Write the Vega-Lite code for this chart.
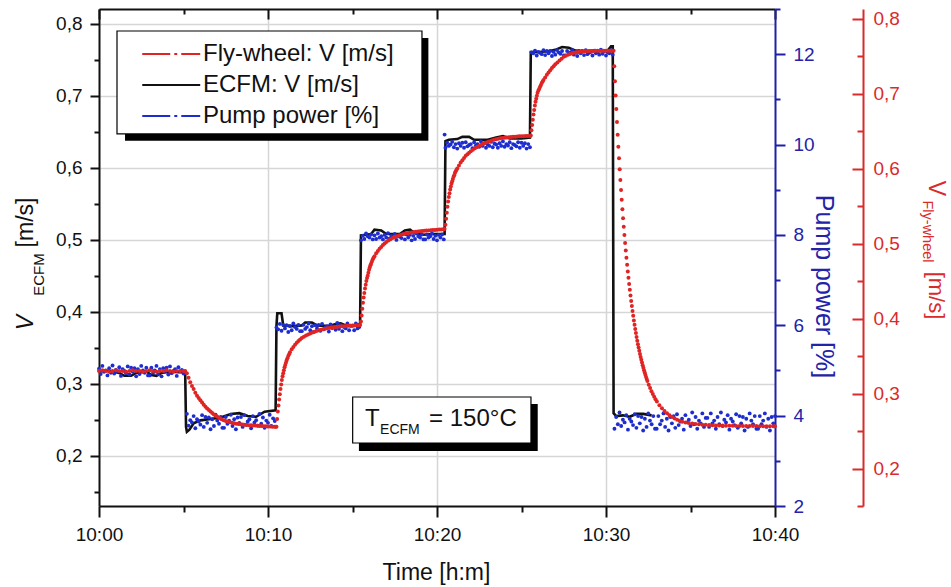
{
"$schema": "https://vega.github.io/schema/vega-lite/v6.json",
"width": 676, "height": 497,
"autosize": {"type": "none"},
"padding": {"left": 99, "top": 9, "right": 176, "bottom": 81},
"background": "white",
"config": {"font": "Liberation Sans", "view": {"stroke": null}, "axis": {"labelFont": "Liberation Sans", "titleFont": "Liberation Sans", "titleFontWeight": "normal"}},
"datasets": {
"ecfm": [{"t":0,"v":0.317},{"t":0.6,"v":0.318},{"t":1.2,"v":0.315},{"t":1.5,"v":0.311},{"t":1.9,"v":0.311},{"t":2.2,"v":0.315},{"t":2.8,"v":0.317},{"t":3.1,"v":0.312},{"t":3.4,"v":0.311},{"t":3.7,"v":0.315},{"t":4.2,"v":0.317},{"t":4.7,"v":0.316},{"t":5.1,"v":0.316},{"t":5.15,"v":0.24},{"t":5.2,"v":0.233},{"t":5.35,"v":0.236},{"t":5.6,"v":0.245},{"t":6.0,"v":0.249},{"t":6.6,"v":0.251},{"t":7.2,"v":0.253},{"t":7.8,"v":0.258},{"t":8.3,"v":0.259},{"t":8.8,"v":0.255},{"t":9.3,"v":0.254},{"t":9.8,"v":0.261},{"t":10.45,"v":0.263},{"t":10.5,"v":0.38},{"t":10.55,"v":0.398},{"t":10.8,"v":0.398},{"t":10.9,"v":0.381},{"t":11.5,"v":0.380},{"t":12.0,"v":0.381},{"t":12.2,"v":0.385},{"t":12.6,"v":0.385},{"t":12.9,"v":0.381},{"t":13.6,"v":0.380},{"t":14.0,"v":0.383},{"t":14.3,"v":0.384},{"t":14.6,"v":0.381},{"t":15.0,"v":0.381},{"t":15.45,"v":0.383},{"t":15.5,"v":0.506},{"t":15.8,"v":0.507},{"t":16.1,"v":0.508},{"t":16.3,"v":0.514},{"t":16.7,"v":0.513},{"t":17.0,"v":0.508},{"t":17.8,"v":0.508},{"t":18.1,"v":0.513},{"t":18.4,"v":0.514},{"t":18.7,"v":0.509},{"t":19.2,"v":0.507},{"t":19.8,"v":0.508},{"t":20.45,"v":0.508},{"t":20.5,"v":0.637},{"t":20.7,"v":0.639},{"t":21.2,"v":0.640},{"t":21.5,"v":0.643},{"t":21.9,"v":0.643},{"t":22.2,"v":0.639},{"t":23.0,"v":0.639},{"t":23.5,"v":0.642},{"t":23.9,"v":0.644},{"t":24.3,"v":0.641},{"t":25.0,"v":0.641},{"t":25.5,"v":0.642},{"t":25.55,"v":0.761},{"t":26.0,"v":0.761},{"t":26.6,"v":0.762},{"t":27.0,"v":0.764},{"t":27.4,"v":0.768},{"t":27.8,"v":0.767},{"t":28.2,"v":0.763},{"t":28.8,"v":0.762},{"t":29.3,"v":0.763},{"t":29.8,"v":0.762},{"t":30.1,"v":0.763},{"t":30.3,"v":0.769},{"t":30.4,"v":0.769},{"t":30.45,"v":0.259},{"t":30.6,"v":0.255},{"t":31.0,"v":0.256},{"t":31.4,"v":0.254},{"t":31.8,"v":0.258},{"t":32.2,"v":0.258},{"t":32.7,"v":0.256}],
"pump": [{"t":0,"p":5.04},{"t":0.1,"p":4.92},{"t":0.2,"p":5.10},{"t":0.3,"p":4.97},{"t":0.4,"p":5.00},{"t":0.5,"p":4.89},{"t":0.6,"p":5.05},{"t":0.7,"p":4.95},{"t":0.8,"p":5.11},{"t":0.9,"p":4.93},{"t":1.0,"p":5.01},{"t":1.1,"p":4.98},{"t":1.2,"p":5.07},{"t":1.3,"p":4.88},{"t":1.4,"p":5.03},{"t":1.5,"p":4.99},{"t":1.6,"p":4.94},{"t":1.7,"p":5.09},{"t":1.8,"p":4.91},{"t":1.9,"p":5.06},{"t":2.0,"p":4.97},{"t":2.1,"p":5.05},{"t":2.2,"p":4.87},{"t":2.3,"p":5.03},{"t":2.4,"p":4.92},{"t":2.5,"p":5.10},{"t":2.6,"p":5.00},{"t":2.7,"p":4.95},{"t":2.8,"p":5.06},{"t":2.9,"p":4.89},{"t":3.0,"p":4.89},{"t":3.1,"p":5.06},{"t":3.2,"p":4.95},{"t":3.3,"p":5.00},{"t":3.4,"p":5.10},{"t":3.5,"p":4.92},{"t":3.6,"p":5.03},{"t":3.7,"p":4.87},{"t":3.8,"p":5.05},{"t":3.9,"p":4.97},{"t":4.0,"p":5.06},{"t":4.1,"p":4.91},{"t":4.2,"p":5.09},{"t":4.3,"p":4.94},{"t":4.4,"p":4.99},{"t":4.5,"p":5.03},{"t":4.6,"p":4.88},{"t":4.7,"p":5.07},{"t":4.8,"p":4.98},{"t":4.9,"p":5.01},{"t":5.0,"p":4.93},
{"t":5.2,"p":4.04},{"t":5.3,"p":3.78},{"t":5.4,"p":3.90},{"t":5.5,"p":3.85},{"t":5.6,"p":3.99},{"t":5.7,"p":3.72},{"t":5.8,"p":3.92},{"t":5.9,"p":3.87},{"t":6.0,"p":3.80},{"t":6.1,"p":4.01},{"t":6.2,"p":3.75},{"t":6.3,"p":3.97},{"t":6.4,"p":3.84},{"t":6.5,"p":3.96},{"t":6.6,"p":3.70},{"t":6.7,"p":3.92},{"t":6.8,"p":3.77},{"t":6.9,"p":4.02},{"t":7.0,"p":3.89},{"t":7.1,"p":3.82},{"t":7.2,"p":3.97},{"t":7.3,"p":3.73},{"t":7.4,"p":3.73},{"t":7.5,"p":3.97},{"t":7.6,"p":3.82},{"t":7.7,"p":3.89},{"t":7.8,"p":4.02},{"t":7.9,"p":3.77},{"t":8.0,"p":3.92},{"t":8.1,"p":3.70},{"t":8.2,"p":3.96},{"t":8.3,"p":3.84},{"t":8.4,"p":3.97},{"t":8.5,"p":3.75},{"t":8.6,"p":4.01},{"t":8.7,"p":3.80},{"t":8.8,"p":3.87},{"t":8.9,"p":3.92},{"t":9.0,"p":3.72},{"t":9.1,"p":3.99},{"t":9.2,"p":3.85},{"t":9.3,"p":3.90},{"t":9.4,"p":3.78},{"t":9.5,"p":4.04},{"t":9.6,"p":3.82},{"t":9.7,"p":3.96},{"t":9.8,"p":3.73},{"t":9.9,"p":3.89},{"t":10.0,"p":3.84},{"t":10.1,"p":4.02},{"t":10.2,"p":3.77},{"t":10.3,"p":3.94},{"t":10.4,"p":3.88},
{"t":10.5,"p":5.95},{"t":10.6,"p":5.91},{"t":10.7,"p":6.03},{"t":10.8,"p":5.88},{"t":10.9,"p":6.01},{"t":11.0,"p":5.93},{"t":11.1,"p":6.00},{"t":11.2,"p":5.85},{"t":11.3,"p":5.98},{"t":11.4,"p":5.89},{"t":11.5,"p":6.04},{"t":11.6,"p":5.96},{"t":11.7,"p":5.92},{"t":11.8,"p":6.01},{"t":11.9,"p":5.87},{"t":12.0,"p":5.87},{"t":12.1,"p":6.01},{"t":12.2,"p":5.92},{"t":12.3,"p":5.96},{"t":12.4,"p":6.04},{"t":12.5,"p":5.89},{"t":12.6,"p":5.98},{"t":12.7,"p":5.85},{"t":12.8,"p":6.00},{"t":12.9,"p":5.93},{"t":13.0,"p":6.01},{"t":13.1,"p":5.88},{"t":13.2,"p":6.03},{"t":13.3,"p":5.91},{"t":13.4,"p":5.95},{"t":13.5,"p":5.98},{"t":13.6,"p":5.86},{"t":13.7,"p":6.02},{"t":13.8,"p":5.94},{"t":13.9,"p":5.97},{"t":14.0,"p":5.90},{"t":14.1,"p":6.05},{"t":14.2,"p":5.92},{"t":14.3,"p":6.00},{"t":14.4,"p":5.87},{"t":14.5,"p":5.96},{"t":14.6,"p":5.93},{"t":14.7,"p":6.04},{"t":14.8,"p":5.89},{"t":14.9,"p":5.99},{"t":15.0,"p":5.99},{"t":15.1,"p":5.89},{"t":15.2,"p":6.04},{"t":15.3,"p":5.93},{"t":15.4,"p":5.96},
{"t":15.5,"p":7.88},{"t":15.6,"p":7.98},{"t":15.7,"p":7.91},{"t":15.8,"p":8.03},{"t":15.9,"p":7.97},{"t":16.0,"p":7.94},{"t":16.1,"p":8.01},{"t":16.2,"p":7.90},{"t":16.3,"p":7.99},{"t":16.4,"p":7.91},{"t":16.5,"p":8.03},{"t":16.6,"p":7.94},{"t":16.7,"p":7.97},{"t":16.8,"p":7.90},{"t":16.9,"p":8.00},{"t":17.0,"p":7.94},{"t":17.1,"p":8.04},{"t":17.2,"p":7.92},{"t":17.3,"p":7.98},{"t":17.4,"p":7.95},{"t":17.5,"p":8.02},{"t":17.6,"p":7.89},{"t":17.7,"p":7.98},{"t":17.8,"p":7.96},{"t":17.9,"p":7.93},{"t":18.0,"p":8.02},{"t":18.1,"p":7.90},{"t":18.2,"p":8.01},{"t":18.3,"p":7.94},{"t":18.4,"p":8.00},{"t":18.5,"p":7.88},{"t":18.6,"p":7.98},{"t":18.7,"p":7.91},{"t":18.8,"p":8.03},{"t":18.9,"p":7.97},{"t":19.0,"p":7.94},{"t":19.1,"p":8.01},{"t":19.2,"p":7.90},{"t":19.3,"p":7.90},{"t":19.4,"p":8.01},{"t":19.5,"p":7.94},{"t":19.6,"p":7.97},{"t":19.7,"p":8.03},{"t":19.8,"p":7.91},{"t":19.9,"p":7.98},{"t":20.0,"p":7.88},{"t":20.1,"p":8.00},{"t":20.2,"p":7.94},{"t":20.3,"p":8.01},{"t":20.4,"p":7.90},
{"t":20.45,"p":10.22},{"t":20.5,"p":9.93},{"t":20.6,"p":10.04},{"t":20.7,"p":9.97},{"t":20.8,"p":10.00},{"t":20.9,"p":10.06},{"t":21.0,"p":9.94},{"t":21.1,"p":10.01},{"t":21.2,"p":9.91},{"t":21.3,"p":10.03},{"t":21.4,"p":9.97},{"t":21.5,"p":10.04},{"t":21.6,"p":9.93},{"t":21.7,"p":10.05},{"t":21.8,"p":9.96},{"t":21.9,"p":9.99},{"t":22.0,"p":10.01},{"t":22.1,"p":9.92},{"t":22.2,"p":10.05},{"t":22.3,"p":9.98},{"t":22.4,"p":10.01},{"t":22.5,"p":9.95},{"t":22.6,"p":10.07},{"t":22.7,"p":9.97},{"t":22.8,"p":10.03},{"t":22.9,"p":9.93},{"t":23.0,"p":10.00},{"t":23.1,"p":9.97},{"t":23.2,"p":10.06},{"t":23.3,"p":9.94},{"t":23.4,"p":10.02},{"t":23.5,"p":10.00},{"t":23.6,"p":9.93},{"t":23.7,"p":10.03},{"t":23.8,"p":9.97},{"t":23.9,"p":10.07},{"t":24.0,"p":9.95},{"t":24.1,"p":10.01},{"t":24.2,"p":9.98},{"t":24.3,"p":10.05},{"t":24.4,"p":9.92},{"t":24.5,"p":10.01},{"t":24.6,"p":9.99},{"t":24.7,"p":9.96},{"t":24.8,"p":10.05},{"t":24.9,"p":9.93},{"t":25.0,"p":10.04},{"t":25.1,"p":9.97},{"t":25.2,"p":10.03},{"t":25.3,"p":9.91},{"t":25.4,"p":10.01},{"t":25.5,"p":9.94},
{"t":25.6,"p":12.04},{"t":25.7,"p":12.02},{"t":25.8,"p":12.08},{"t":25.9,"p":11.97},{"t":26.0,"p":12.05},{"t":26.1,"p":12.03},{"t":26.2,"p":12.00},{"t":26.3,"p":12.09},{"t":26.4,"p":11.98},{"t":26.5,"p":12.07},{"t":26.6,"p":12.02},{"t":26.7,"p":12.07},{"t":26.8,"p":11.96},{"t":26.9,"p":12.05},{"t":27.0,"p":11.99},{"t":27.1,"p":12.09},{"t":27.2,"p":12.04},{"t":27.3,"p":12.01},{"t":27.4,"p":12.07},{"t":27.5,"p":11.97},{"t":27.6,"p":11.97},{"t":27.7,"p":12.07},{"t":27.8,"p":12.01},{"t":27.9,"p":12.04},{"t":28.0,"p":12.09},{"t":28.1,"p":11.99},{"t":28.2,"p":12.05},{"t":28.3,"p":11.96},{"t":28.4,"p":12.07},{"t":28.5,"p":12.02},{"t":28.6,"p":12.07},{"t":28.7,"p":11.98},{"t":28.8,"p":12.09},{"t":28.9,"p":12.00},{"t":29.0,"p":12.03},{"t":29.1,"p":12.05},{"t":29.2,"p":11.97},{"t":29.3,"p":12.08},{"t":29.4,"p":12.02},{"t":29.5,"p":12.04},{"t":29.6,"p":11.99},{"t":29.7,"p":12.10},{"t":29.8,"p":12.01},{"t":29.9,"p":12.07},{"t":30.0,"p":11.97},{"t":30.1,"p":12.04},{"t":30.2,"p":12.02},{"t":30.3,"p":12.09},{"t":30.4,"p":11.99},
{"t":30.5,"p":3.71},{"t":30.6,"p":3.97},{"t":30.7,"p":3.81},{"t":30.8,"p":4.07},{"t":30.9,"p":3.77},{"t":31.0,"p":3.91},{"t":31.1,"p":3.85},{"t":31.2,"p":4.01},{"t":31.3,"p":3.69},{"t":31.4,"p":3.93},{"t":31.5,"p":3.87},{"t":31.6,"p":3.79},{"t":31.7,"p":4.03},{"t":31.8,"p":3.73},{"t":31.9,"p":3.99},{"t":32.0,"p":3.83},{"t":32.1,"p":3.97},{"t":32.2,"p":3.67},{"t":32.3,"p":3.93},{"t":32.4,"p":3.75},{"t":32.5,"p":4.05},{"t":32.6,"p":3.89},{"t":32.7,"p":3.81},{"t":32.8,"p":3.99},{"t":32.9,"p":3.71},{"t":33.0,"p":3.71},{"t":33.1,"p":3.99},{"t":33.2,"p":3.81},{"t":33.3,"p":3.89},{"t":33.4,"p":4.05},{"t":33.5,"p":3.75},{"t":33.6,"p":3.93},{"t":33.7,"p":3.67},{"t":33.8,"p":3.97},{"t":33.9,"p":3.83},{"t":34.0,"p":3.99},{"t":34.1,"p":3.73},{"t":34.2,"p":4.03},{"t":34.3,"p":3.79},{"t":34.4,"p":3.87},{"t":34.5,"p":3.93},{"t":34.6,"p":3.69},{"t":34.7,"p":4.01},{"t":34.8,"p":3.85},{"t":34.9,"p":3.91},{"t":35.0,"p":3.77},{"t":35.1,"p":4.07},{"t":35.2,"p":3.81},{"t":35.3,"p":3.97},{"t":35.4,"p":3.71},{"t":35.5,"p":3.89},{"t":35.6,"p":3.83},{"t":35.7,"p":4.05},{"t":35.8,"p":3.75},{"t":35.9,"p":3.95},{"t":36.0,"p":3.95},{"t":36.1,"p":3.75},{"t":36.2,"p":4.05},{"t":36.3,"p":3.83},{"t":36.4,"p":3.89},{"t":36.5,"p":3.71},{"t":36.6,"p":3.97},{"t":36.7,"p":3.81},{"t":36.8,"p":4.07},{"t":36.9,"p":3.77},{"t":37.0,"p":3.91},{"t":37.1,"p":3.85},{"t":37.2,"p":4.01},{"t":37.3,"p":3.69},{"t":37.4,"p":3.93},{"t":37.5,"p":3.87},{"t":37.6,"p":3.79},{"t":37.7,"p":4.03},{"t":37.8,"p":3.73},{"t":37.9,"p":3.99},{"t":38.0,"p":3.83},{"t":38.1,"p":3.97},{"t":38.2,"p":3.67},{"t":38.3,"p":3.93},{"t":38.4,"p":3.75},{"t":38.5,"p":4.05},{"t":38.6,"p":3.89},{"t":38.7,"p":3.81},{"t":38.8,"p":3.99},{"t":38.9,"p":3.71},{"t":39.0,"p":3.71},{"t":39.1,"p":3.99},{"t":39.2,"p":3.81},{"t":39.3,"p":3.89},{"t":39.4,"p":4.05},{"t":39.5,"p":3.75},{"t":39.6,"p":3.93},{"t":39.7,"p":3.67},{"t":39.8,"p":3.97},{"t":39.9,"p":3.83},{"t":40.0,"p":3.99}],
"fly": [{"t":0,"r":0.330},{"t":0.2,"r":0.331},{"t":0.4,"r":0.330},{"t":0.6,"r":0.329},{"t":0.8,"r":0.330},{"t":1.0,"r":0.331},{"t":1.2,"r":0.330},{"t":1.4,"r":0.330},{"t":1.6,"r":0.329},{"t":1.8,"r":0.330},{"t":2.0,"r":0.331},{"t":2.2,"r":0.330},{"t":2.4,"r":0.330},{"t":2.6,"r":0.329},{"t":2.8,"r":0.330},{"t":3.0,"r":0.331},{"t":3.2,"r":0.330},{"t":3.4,"r":0.329},{"t":3.6,"r":0.330},{"t":3.8,"r":0.330},{"t":4.0,"r":0.331},{"t":4.2,"r":0.330},{"t":4.4,"r":0.329},{"t":4.6,"r":0.330},{"t":4.8,"r":0.330},{"t":5.0,"r":0.330},
{"t":5.1,"r":0.330},{"t":5.2,"r":0.327},{"t":5.3,"r":0.321},{"t":5.4,"r":0.315},{"t":5.5,"r":0.310},{"t":5.6,"r":0.306},{"t":5.7,"r":0.301},{"t":5.8,"r":0.297},{"t":5.9,"r":0.294},{"t":6.0,"r":0.291},{"t":6.1,"r":0.288},{"t":6.2,"r":0.285},{"t":6.3,"r":0.2825},{"t":6.4,"r":0.280},{"t":6.5,"r":0.278},{"t":6.6,"r":0.276},{"t":6.7,"r":0.274},{"t":6.8,"r":0.272},{"t":6.9,"r":0.2705},{"t":7.0,"r":0.269},{"t":7.125,"r":0.2672},{"t":7.25,"r":0.2658},{"t":7.375,"r":0.2645},{"t":7.5,"r":0.2634},{"t":7.625,"r":0.2625},{"t":7.75,"r":0.2617},{"t":7.875,"r":0.261},{"t":8.0,"r":0.2603},{"t":8.125,"r":0.2598},{"t":8.25,"r":0.2594},{"t":8.375,"r":0.259},{"t":8.5,"r":0.2587},{"t":8.625,"r":0.2584},{"t":8.75,"r":0.2581},{"t":8.875,"r":0.2578},{"t":9.0,"r":0.2576},{"t":9.125,"r":0.2574},{"t":9.25,"r":0.2572},{"t":9.375,"r":0.257},{"t":9.5,"r":0.2568},{"t":9.625,"r":0.2566},{"t":9.75,"r":0.2564},{"t":9.875,"r":0.2562},{"t":10.0,"r":0.256},{"t":10.125,"r":0.2559},{"t":10.25,"r":0.2558},{"t":10.375,"r":0.2557},{"t":10.45,"r":0.2556},
{"t":10.5,"r":0.2558},{"t":10.54,"r":0.266},{"t":10.58,"r":0.276},{"t":10.62,"r":0.284},{"t":10.66,"r":0.292},{"t":10.7,"r":0.299},{"t":10.74,"r":0.306},{"t":10.78,"r":0.312},{"t":10.82,"r":0.318},{"t":10.86,"r":0.323},{"t":10.9,"r":0.327},{"t":10.94,"r":0.331},{"t":10.98,"r":0.335},{"t":11.02,"r":0.338},{"t":11.06,"r":0.341},{"t":11.1,"r":0.344},{"t":11.15,"r":0.347},{"t":11.2,"r":0.350},{"t":11.25,"r":0.3525},{"t":11.3,"r":0.355},{"t":11.4,"r":0.359},{"t":11.5,"r":0.362},{"t":11.6,"r":0.365},{"t":11.7,"r":0.3677},{"t":11.8,"r":0.370},{"t":11.9,"r":0.372},{"t":12.0,"r":0.374},{"t":12.125,"r":0.3758},{"t":12.25,"r":0.3774},{"t":12.375,"r":0.3788},{"t":12.5,"r":0.380},{"t":12.625,"r":0.3812},{"t":12.75,"r":0.3823},{"t":12.875,"r":0.3833},{"t":13.0,"r":0.3842},{"t":13.125,"r":0.385},{"t":13.25,"r":0.3857},{"t":13.375,"r":0.3863},{"t":13.5,"r":0.3869},{"t":13.625,"r":0.3874},{"t":13.75,"r":0.3879},{"t":13.875,"r":0.3883},{"t":14.0,"r":0.3887},{"t":14.125,"r":0.389},{"t":14.25,"r":0.3893},{"t":14.375,"r":0.3896},{"t":14.5,"r":0.3898},{"t":14.625,"r":0.39},{"t":14.75,"r":0.3902},{"t":14.875,"r":0.3904},{"t":15.0,"r":0.3906},{"t":15.125,"r":0.3908},{"t":15.25,"r":0.391},{"t":15.375,"r":0.3911},{"t":15.45,"r":0.3912},
{"t":15.5,"r":0.396},{"t":15.54,"r":0.404},{"t":15.58,"r":0.413},{"t":15.62,"r":0.421},{"t":15.66,"r":0.428},{"t":15.7,"r":0.434},{"t":15.74,"r":0.440},{"t":15.78,"r":0.445},{"t":15.82,"r":0.450},{"t":15.86,"r":0.454},{"t":15.9,"r":0.457},{"t":15.94,"r":0.461},{"t":15.98,"r":0.465},{"t":16.02,"r":0.468},{"t":16.06,"r":0.471},{"t":16.1,"r":0.473},{"t":16.15,"r":0.476},{"t":16.2,"r":0.479},{"t":16.25,"r":0.481},{"t":16.3,"r":0.483},{"t":16.4,"r":0.487},{"t":16.5,"r":0.490},{"t":16.6,"r":0.493},{"t":16.7,"r":0.4955},{"t":16.8,"r":0.498},{"t":16.9,"r":0.500},{"t":17.0,"r":0.502},{"t":17.125,"r":0.504},{"t":17.25,"r":0.5057},{"t":17.375,"r":0.5072},{"t":17.5,"r":0.5085},{"t":17.625,"r":0.5097},{"t":17.75,"r":0.5108},{"t":17.875,"r":0.5117},{"t":18.0,"r":0.5125},{"t":18.125,"r":0.5132},{"t":18.25,"r":0.5138},{"t":18.375,"r":0.5143},{"t":18.5,"r":0.5148},{"t":18.625,"r":0.5152},{"t":18.75,"r":0.5156},{"t":18.875,"r":0.516},{"t":19.0,"r":0.5163},{"t":19.125,"r":0.5166},{"t":19.25,"r":0.5169},{"t":19.375,"r":0.5172},{"t":19.5,"r":0.5174},{"t":19.625,"r":0.5177},{"t":19.75,"r":0.5179},{"t":19.875,"r":0.5181},{"t":20.0,"r":0.5183},{"t":20.125,"r":0.5186},{"t":20.25,"r":0.5188},{"t":20.375,"r":0.519},{"t":20.45,"r":0.5195},
{"t":20.5,"r":0.525},{"t":20.54,"r":0.533},{"t":20.58,"r":0.541},{"t":20.62,"r":0.549},{"t":20.66,"r":0.556},{"t":20.7,"r":0.562},{"t":20.74,"r":0.567},{"t":20.78,"r":0.572},{"t":20.82,"r":0.576},{"t":20.86,"r":0.580},{"t":20.9,"r":0.583},{"t":20.94,"r":0.586},{"t":20.98,"r":0.589},{"t":21.02,"r":0.591},{"t":21.06,"r":0.594},{"t":21.1,"r":0.596},{"t":21.15,"r":0.598},{"t":21.2,"r":0.600},{"t":21.3,"r":0.604},{"t":21.4,"r":0.608},{"t":21.5,"r":0.611},{"t":21.6,"r":0.614},{"t":21.7,"r":0.617},{"t":21.8,"r":0.619},{"t":21.9,"r":0.621},{"t":22.0,"r":0.623},{"t":22.125,"r":0.625},{"t":22.25,"r":0.627},{"t":22.375,"r":0.6287},{"t":22.5,"r":0.6303},{"t":22.625,"r":0.6318},{"t":22.75,"r":0.6332},{"t":22.875,"r":0.6344},{"t":23.0,"r":0.6355},{"t":23.125,"r":0.6365},{"t":23.25,"r":0.6374},{"t":23.375,"r":0.6382},{"t":23.5,"r":0.639},{"t":23.625,"r":0.6396},{"t":23.75,"r":0.6402},{"t":23.875,"r":0.6407},{"t":24.0,"r":0.6411},{"t":24.125,"r":0.6415},{"t":24.25,"r":0.6418},{"t":24.375,"r":0.6421},{"t":24.5,"r":0.6423},{"t":24.625,"r":0.6425},{"t":24.75,"r":0.6427},{"t":24.875,"r":0.6429},{"t":25.0,"r":0.643},{"t":25.125,"r":0.6431},{"t":25.25,"r":0.6432},{"t":25.375,"r":0.6433},{"t":25.5,"r":0.6434},
{"t":25.55,"r":0.644},{"t":25.59,"r":0.651},{"t":25.63,"r":0.658},{"t":25.67,"r":0.665},{"t":25.71,"r":0.672},{"t":25.75,"r":0.678},{"t":25.79,"r":0.684},{"t":25.83,"r":0.689},{"t":25.87,"r":0.693},{"t":25.91,"r":0.697},{"t":25.95,"r":0.701},{"t":26.0,"r":0.704},{"t":26.05,"r":0.7065},{"t":26.1,"r":0.709},{"t":26.15,"r":0.7115},{"t":26.2,"r":0.714},{"t":26.25,"r":0.716},{"t":26.3,"r":0.718},{"t":26.4,"r":0.7215},{"t":26.5,"r":0.725},{"t":26.6,"r":0.728},{"t":26.7,"r":0.731},{"t":26.8,"r":0.734},{"t":26.9,"r":0.7365},{"t":27.0,"r":0.739},{"t":27.125,"r":0.7415},{"t":27.25,"r":0.744},{"t":27.375,"r":0.7465},{"t":27.5,"r":0.749},{"t":27.625,"r":0.7505},{"t":27.75,"r":0.7518},{"t":27.875,"r":0.7528},{"t":28.0,"r":0.7536},{"t":28.125,"r":0.7543},{"t":28.25,"r":0.7549},{"t":28.375,"r":0.7554},{"t":28.5,"r":0.7558},{"t":28.625,"r":0.7561},{"t":28.75,"r":0.7563},{"t":28.875,"r":0.7565},{"t":29.0,"r":0.7566},{"t":29.125,"r":0.7567},{"t":29.25,"r":0.7568},{"t":29.375,"r":0.7569},{"t":29.5,"r":0.757},{"t":29.625,"r":0.757},{"t":29.75,"r":0.757},{"t":29.875,"r":0.757},{"t":30.0,"r":0.757},{"t":30.125,"r":0.757},{"t":30.25,"r":0.757},{"t":30.375,"r":0.757},{"t":30.45,"r":0.757},
{"t":30.49,"r":0.7363},{"t":30.53,"r":0.7165},{"t":30.57,"r":0.6975},{"t":30.61,"r":0.6793},{"t":30.65,"r":0.6619},{"t":30.69,"r":0.6451},{"t":30.73,"r":0.6291},{"t":30.77,"r":0.6137},{"t":30.81,"r":0.5989},{"t":30.85,"r":0.5848},{"t":30.89,"r":0.5712},{"t":30.93,"r":0.5582},{"t":30.97,"r":0.5457},{"t":31.01,"r":0.5338},{"t":31.05,"r":0.5223},{"t":31.09,"r":0.5113},{"t":31.13,"r":0.5008},{"t":31.17,"r":0.4907},{"t":31.21,"r":0.4810},{"t":31.25,"r":0.4717},{"t":31.29,"r":0.4628},{"t":31.33,"r":0.4542},{"t":31.37,"r":0.4461},{"t":31.41,"r":0.4382},{"t":31.45,"r":0.4307},{"t":31.49,"r":0.4235},{"t":31.53,"r":0.4166},{"t":31.57,"r":0.4100},{"t":31.61,"r":0.4036},{"t":31.65,"r":0.3975},{"t":31.69,"r":0.3917},{"t":31.73,"r":0.3860},{"t":31.77,"r":0.3807},{"t":31.81,"r":0.3755},{"t":31.85,"r":0.3705},{"t":31.89,"r":0.3658},{"t":31.93,"r":0.3613},{"t":31.97,"r":0.3569},{"t":32.01,"r":0.3527},{"t":32.05,"r":0.3487},{"t":32.09,"r":0.3449},{"t":32.13,"r":0.3412},{"t":32.17,"r":0.3377},{"t":32.21,"r":0.3343},{"t":32.25,"r":0.3311},{"t":32.29,"r":0.3280},{"t":32.33,"r":0.3250},{"t":32.37,"r":0.3221},{"t":32.41,"r":0.3193},{"t":32.45,"r":0.3167},{"t":32.53,"r":0.3118},{"t":32.61,"r":0.3073},{"t":32.69,"r":0.3031},{"t":32.77,"r":0.2992},{"t":32.85,"r":0.2957},{"t":32.93,"r":0.2925},{"t":33.01,"r":0.2895},{"t":33.16,"r":0.2845},{"t":33.31,"r":0.2803},{"t":33.46,"r":0.2767},{"t":33.61,"r":0.2736},{"t":33.76,"r":0.2709},{"t":33.91,"r":0.2687},{"t":34.06,"r":0.2668},{"t":34.21,"r":0.2651},{"t":34.36,"r":0.2637},{"t":34.51,"r":0.2625},{"t":34.7,"r":0.2615},{"t":34.9,"r":0.2607},{"t":35.1,"r":0.26},{"t":35.3,"r":0.2594},{"t":35.5,"r":0.2589},{"t":35.7,"r":0.2585},{"t":35.9,"r":0.2582},{"t":36.1,"r":0.2579},{"t":36.3,"r":0.2577},{"t":36.5,"r":0.2575},{"t":36.7,"r":0.2573},{"t":36.9,"r":0.2572},{"t":37.1,"r":0.2571},{"t":37.3,"r":0.257},{"t":37.5,"r":0.2569},{"t":37.7,"r":0.2568},{"t":37.9,"r":0.2568},{"t":38.1,"r":0.2567},{"t":38.3,"r":0.2567},{"t":38.5,"r":0.2566},{"t":38.7,"r":0.2566},{"t":38.9,"r":0.2566},{"t":39.1,"r":0.2565},{"t":39.3,"r":0.2565},{"t":39.5,"r":0.2565},{"t":39.7,"r":0.2565},{"t":39.9,"r":0.2565},{"t":40.0,"r":0.2565}]
},
"resolve": {"scale": {"y": "independent"}, "axis": {"x": "independent", "y": "independent"}},
"layer": [
{
"resolve": {"axis": {"x": "independent", "y": "independent"}},
"layer": [
{"data": {"values": [{}]}, "mark": {"type": "rect", "color": "#000000"},
 "encoding": {
  "x": {"datum": 1.54, "type": "quantitative", "scale": {"domain": [0, 40], "nice": false, "zero": false},
        "axis": {"orient": "top", "values": [0,5,10,15,20,25,30,35,40], "labels": false, "tickSize": {"condition": {"test": "datum.value % 10 === 0", "value": -10}, "value": -5}, "tickWidth": 2, "tickColor": "#111111", "domainColor": "#111111", "domainWidth": 2, "grid": false, "title": null}},
  "x2": {"datum": 19.49},
  "y": {"datum": 0.7805, "type": "quantitative", "scale": {"domain": [0.13, 0.8208], "nice": false, "zero": false},
        "axis": {"orient": "left", "labels": false, "ticks": false, "domain": false, "grid": false, "title": "V", "titleFontStyle": "italic", "titleFontSize": 23, "titleColor": "#111111", "titleAngle": -90, "titleX": -67, "titleY": 313, "titleAlign": "center", "titleBaseline": "alphabetic"}},
  "y2": {"datum": 0.6378}}},
{"data": {"values": [{}]}, "mark": {"type": "rect", "fill": "white", "stroke": "#000000", "strokeWidth": 1.2},
 "encoding": {
  "x": {"datum": 1.065, "type": "quantitative", "scale": {"domain": [0, 40], "nice": false, "zero": false}, "axis": null},
  "x2": {"datum": 19.11},
  "y": {"datum": 0.7902, "type": "quantitative", "scale": {"domain": [0.13, 0.8208], "nice": false, "zero": false},
        "axis": {"orient": "left", "labels": false, "ticks": false, "domain": false, "grid": false, "title": "ECFM", "titleFontSize": 15, "titleColor": "#111111", "titleAngle": -90, "titleX": -56, "titleY": 265, "titleAlign": "center", "titleBaseline": "alphabetic"}},
  "y2": {"datum": 0.6471}}},
{"data": {"values": [{}]}, "mark": {"type": "rect", "color": "#000000"},
 "encoding": {
  "x": {"datum": 15.38, "type": "quantitative", "scale": {"domain": [0, 40], "nice": false, "zero": false}, "axis": null},
  "x2": {"datum": 25.96},
  "y": {"datum": 0.2718, "type": "quantitative", "scale": {"domain": [0.13, 0.8208], "nice": false, "zero": false}, "axis": null},
  "y2": {"datum": 0.2065}}},
{"data": {"values": [{}]}, "mark": {"type": "rect", "fill": "white", "stroke": "#000000", "strokeWidth": 1.2},
 "encoding": {
  "x": {"datum": 15.01, "type": "quantitative", "scale": {"domain": [0, 40], "nice": false, "zero": false}, "axis": null},
  "x2": {"datum": 25.56},
  "y": {"datum": 0.2815, "type": "quantitative", "scale": {"domain": [0.13, 0.8208], "nice": false, "zero": false}, "axis": null},
  "y2": {"datum": 0.2176}}},
{"data": {"values": [{}]}, "mark": {"type": "text", "align": "left", "baseline": "alphabetic", "fontSize": 24, "color": "#111111", "font": "Liberation Sans"},
 "encoding": {
  "x": {"datum": 15.74, "type": "quantitative", "scale": {"domain": [0, 40], "nice": false, "zero": false}, "axis": null},
  "y": {"datum": 0.2417, "type": "quantitative", "scale": {"domain": [0.13, 0.8208], "nice": false, "zero": false}, "axis": null},
  "text": {"value": "T"}}},
{"data": {"values": [{}]}, "mark": {"type": "text", "align": "left", "baseline": "alphabetic", "fontSize": 14, "color": "#111111", "font": "Liberation Sans"},
 "encoding": {
  "x": {"datum": 16.63, "type": "quantitative", "scale": {"domain": [0, 40], "nice": false, "zero": false}, "axis": null},
  "y": {"datum": 0.2297, "type": "quantitative", "scale": {"domain": [0.13, 0.8208], "nice": false, "zero": false}, "axis": null},
  "text": {"value": "ECFM"}}},
{"data": {"values": [{}]}, "mark": {"type": "text", "align": "left", "baseline": "alphabetic", "fontSize": 24, "color": "#111111", "font": "Liberation Sans"},
 "encoding": {
  "x": {"datum": 19.53, "type": "quantitative", "scale": {"domain": [0, 40], "nice": false, "zero": false}, "axis": null},
  "y": {"datum": 0.2417, "type": "quantitative", "scale": {"domain": [0.13, 0.8208], "nice": false, "zero": false}, "axis": null},
  "text": {"value": "= 150°C"}}},
{"data": {"name": "ecfm"}, "mark": {"type": "line", "strokeWidth": 2.6},
 "encoding": {
  "x": {"field": "t", "type": "quantitative", "scale": {"domain": [0, 40], "nice": false, "zero": false},
        "axis": {"orient": "bottom", "values": [0,5,10,15,20,25,30,35,40], "labelExpr": "datum.value % 10 === 0 ? '10:' + (datum.value === 0 ? '00' : datum.value) : ''", "tickSize": {"condition": {"test": "datum.value % 10 === 0", "value": 11}, "value": 6}, "tickWidth": 2, "tickColor": "#111111", "domainColor": "#111111", "domainWidth": 2, "grid": true, "gridColor": "#d6d6d6", "gridWidth": 1.5, "gridOpacity": {"condition": {"test": "datum.value % 10 === 0 && datum.value > 0 && datum.value < 40", "value": 1}, "value": 0}, "labelFontSize": 19, "labelColor": "#111111", "labelPadding": 8, "labelFlush": false, "labelOverlap": false, "title": "Time [h:m]", "titleFontSize": 23, "titleColor": "#111111", "titleX": 337, "titleY": 73, "titleAlign": "center", "titleBaseline": "alphabetic"}},
  "y": {"field": "v", "type": "quantitative", "scale": {"domain": [0.13, 0.8208], "nice": false, "zero": false},
        "axis": {"orient": "left", "values": [0.15,0.2,0.25,0.3,0.35,0.4,0.45,0.5,0.55,0.6,0.65,0.7,0.75,0.8], "labelExpr": "abs(datum.value*10 - round(datum.value*10)) < 0.01 ? replace(format(datum.value, '.1f'), '.', ',') : ''", "tickSize": {"condition": {"test": "abs(datum.value*10 - round(datum.value*10)) < 0.01", "value": 9}, "value": 5}, "tickWidth": 2, "tickColor": "#111111", "domainColor": "#111111", "domainWidth": 2, "grid": true, "gridColor": "#d6d6d6", "gridWidth": 1.5, "gridOpacity": {"condition": {"test": "abs(datum.value*10 - round(datum.value*10)) < 0.01", "value": 1}, "value": 0}, "labelFontSize": 19, "labelColor": "#111111", "labelPadding": 8, "labelOverlap": false, "title": "[m/s]", "titleFontSize": 23, "titleColor": "#111111", "titleAngle": -90, "titleX": -67, "titleY": 213, "titleAlign": "center", "titleBaseline": "alphabetic"}},
  "color": {"datum": "ECFM: V [m/s]", "type": "nominal",
        "scale": {"domain": ["Fly-wheel: V [m/s]", "ECFM: V [m/s]", "Pump power [%]"], "range": ["#e02424", "#111111", "#1d2dd0"]},
        "legend": {"orient": "none", "legendX": 24, "legendY": 33, "title": null, "direction": "vertical", "symbolType": "M1,0H9", "symbolSize": 210, "symbolStrokeWidth": 2.2, "labelFontSize": 24, "labelFont": "Liberation Sans", "labelColor": "#111111", "labelOffset": 56, "labelLimit": 400, "rowPadding": 7, "padding": 0,
          "encode": {"symbols": {"update": {"stroke": {"scale": "color", "field": "value"}, "fill": {"value": "transparent"}, "strokeWidth": {"value": 2.2}, "strokeDash": {"signal": "datum.value === 'ECFM: V [m/s]' ? [1, 0] : [28, 4, 3, 4]"}}}}}}}}
]
},
{"data": {"name": "pump"}, "mark": {"type": "circle", "size": 15, "opacity": 1},
 "encoding": {
  "x": {"field": "t", "type": "quantitative", "scale": {"domain": [0, 40], "nice": false, "zero": false}, "axis": null},
  "y": {"field": "p", "type": "quantitative", "scale": {"domain": [2, 13], "nice": false, "zero": false},
        "axis": {"orient": "right", "values": [2,3,4,5,6,7,8,9,10,11,12,13], "labelExpr": "datum.value % 2 === 0 ? datum.label : ''", "tickSize": {"condition": {"test": "datum.value % 2 === 0", "value": 10}, "value": 5}, "tickWidth": 2, "tickColor": "#1f1fa8", "domainColor": "#1f1fa8", "domainWidth": 2, "labelColor": "#2323a8", "labelFontSize": 19, "labelPadding": 8, "labelOverlap": false, "grid": false, "title": "Pump power [%]", "titleColor": "#2323a8", "titleFontSize": 25, "titleAngle": 90, "titleX": 40, "titleY": 277, "titleAlign": "center", "titleBaseline": "alphabetic"}},
  "color": {"datum": "Pump power [%]", "type": "nominal", "scale": {"domain": ["Fly-wheel: V [m/s]", "ECFM: V [m/s]", "Pump power [%]"], "range": ["#e02424", "#111111", "#1d2dd0"]}}}},
{
"resolve": {"axis": {"y": "independent"}},
"layer": [
{"data": {"name": "fly"}, "mark": {"type": "circle", "size": 16, "opacity": 1},
 "encoding": {
  "x": {"field": "t", "type": "quantitative", "scale": {"domain": [0, 40], "nice": false, "zero": false}, "axis": null},
  "y": {"field": "r", "type": "quantitative", "scale": {"domain": [0.15, 0.8127], "nice": false, "zero": false},
        "axis": {"orient": "right", "offset": 88, "values": [0.15,0.2,0.25,0.3,0.35,0.4,0.45,0.5,0.55,0.6,0.65,0.7,0.75,0.8], "labelExpr": "abs(datum.value*10 - round(datum.value*10)) < 0.01 ? replace(format(datum.value, '.1f'), '.', ',') : ''", "tickSize": {"condition": {"test": "abs(datum.value*10 - round(datum.value*10)) < 0.01", "value": -11}, "value": -6}, "tickWidth": 2, "tickColor": "#d92b2b", "domainColor": "#d92b2b", "domainWidth": 2, "labelColor": "#d92b2b", "labelFontSize": 19, "labelPadding": 21, "labelOverlap": false, "grid": false, "title": "[m/s]", "titleColor": "#d92b2b", "titleFontSize": 22, "titleAngle": 90, "titleX": 65, "titleY": 286, "titleAlign": "center", "titleBaseline": "alphabetic"}},
  "color": {"datum": "Fly-wheel: V [m/s]", "type": "nominal", "scale": {"domain": ["Fly-wheel: V [m/s]", "ECFM: V [m/s]", "Pump power [%]"], "range": ["#e02424", "#111111", "#1d2dd0"]}}}},
{"data": {"values": [{}]}, "mark": {"type": "rule", "opacity": 0},
 "encoding": {
  "y": {"datum": 0.5, "type": "quantitative", "scale": {"domain": [0.15, 0.8127], "nice": false, "zero": false},
        "axis": {"orient": "right", "offset": 88, "labels": false, "ticks": false, "domain": false, "grid": false, "title": "V", "titleColor": "#d92b2b", "titleFontSize": 23, "titleAngle": 90, "titleX": 65, "titleY": 179, "titleAlign": "center", "titleBaseline": "alphabetic"}}}},
{"data": {"values": [{}]}, "mark": {"type": "rule", "opacity": 0},
 "encoding": {
  "y": {"datum": 0.5, "type": "quantitative", "scale": {"domain": [0.15, 0.8127], "nice": false, "zero": false},
        "axis": {"orient": "right", "offset": 88, "labels": false, "ticks": false, "domain": false, "grid": false, "title": "Fly-wheel", "titleColor": "#d92b2b", "titleFontSize": 14.5, "titleAngle": 90, "titleX": 59, "titleY": 222, "titleAlign": "center", "titleBaseline": "alphabetic"}}}}
]
}
]
}
